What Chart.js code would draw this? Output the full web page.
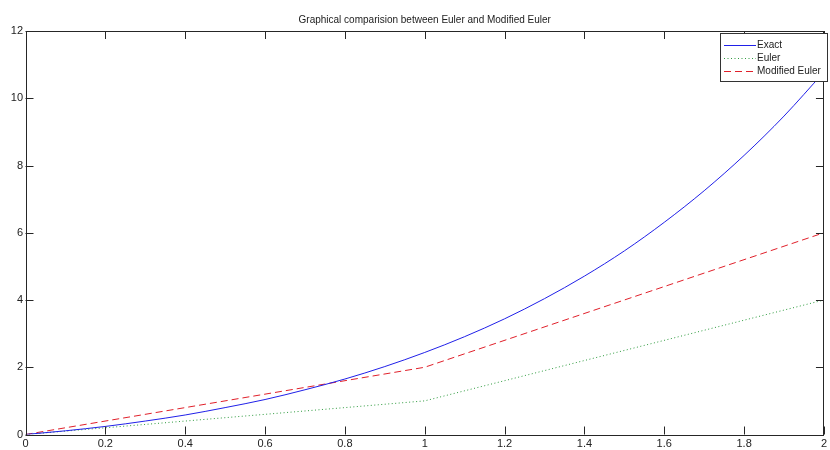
<!DOCTYPE html>
<html>
<head>
<meta charset="utf-8">
<script src="https://cdn.jsdelivr.net/npm/chart.js@4.4.1/dist/chart.umd.min.js"></script>
<style>
html,body{margin:0;padding:0;background:#fff;}
#wrap{position:relative;width:830px;height:450px;}
</style>
</head>
<body>
<div id="wrap"><canvas id="c" width="830" height="450"></canvas></div>
<script>
// ---- data ----
const titleText = "Graphical comparision between Euler and Modified Euler";
const seriesNames = ["Exact", "Euler", "Modified Euler"];
const seriesColors = ["#2020e8", "#2e9a3e", "#e0202a"];
const xExact = [0,0.1,0.2,0.3,0.4,0.5,0.6,0.7,0.8,0.9,1.0,1.1,1.2,1.3,1.4,1.5,1.6,1.7,1.8,1.9,2.0];
const yExact = [0,0.11,0.24,0.40,0.58,0.80,1.04,1.33,1.65,2.02,2.44,2.91,3.44,4.04,4.71,5.46,6.31,7.25,8.30,9.47,10.78];
const xSteps = [0,1,2];
const yEuler = [0,1,4];
const yModified = [0,2,6];
const xTickLabels = ["0","0.2","0.4","0.6","0.8","1","1.2","1.4","1.6","1.8","2"];
const yTickLabels = ["0","2","4","6","8","10","12"];

const FONT = "'Liberation Sans', Arial, sans-serif";
const DASHES = [[], [1,2.5], [7,4]];

function pts(xs, ys){ return xs.map((x,i)=>({x:x, y:ys[i]})); }

const boxPlugin = {
  id: 'matlabBox',
  afterDatasetsDraw(chart){
    const ctx = chart.ctx, a = chart.chartArea;
    const xs = chart.scales.x, ys = chart.scales.y;
    ctx.save();
    ctx.strokeStyle = '#262626';
    ctx.lineWidth = 1;
    ctx.setLineDash([]);
    // box
    ctx.beginPath();
    ctx.rect(Math.round(a.left)+0.5, Math.round(a.top)+0.5, Math.round(a.right-a.left)-1, Math.round(a.bottom-a.top));
    ctx.stroke();
    const TL = 8;
    ctx.beginPath();
    xs.ticks.forEach(t=>{
      const px = Math.round(xs.getPixelForValue(t.value))+0.5;
      ctx.moveTo(px, a.bottom); ctx.lineTo(px, a.bottom-TL);
      ctx.moveTo(px, a.top); ctx.lineTo(px, a.top+TL);
    });
    ys.ticks.forEach(t=>{
      const py = Math.round(ys.getPixelForValue(t.value))+0.5;
      ctx.moveTo(a.left, py); ctx.lineTo(a.left+TL, py);
      ctx.moveTo(a.right, py); ctx.lineTo(a.right-TL, py);
    });
    ctx.stroke();

    // title
    ctx.fillStyle = '#222';
    ctx.font = '10px ' + FONT;
    ctx.textAlign = 'center';
    ctx.textBaseline = 'middle';
    ctx.fillText(titleText, (a.left+a.right)/2, 20);

    // legend box inside axes
    const lx = 720, ly = 33.5, lw = 107, lh = 48;
    ctx.fillStyle = '#fff';
    ctx.fillRect(lx, ly, lw, lh);
    ctx.strokeStyle = '#333';
    ctx.strokeRect(lx+0.5, ly, lw, lh);
    seriesNames.forEach((name, i)=>{
      const y = 45.5 + i*13;
      ctx.save();
      ctx.strokeStyle = seriesColors[i];
      ctx.lineWidth = 1;
      ctx.setLineDash(DASHES[i]);
      ctx.beginPath();
      ctx.moveTo(724, y); ctx.lineTo(756, y);
      ctx.stroke();
      ctx.restore();
      ctx.fillStyle = '#222';
      ctx.font = '10px ' + FONT;
      ctx.textAlign = 'left';
      ctx.textBaseline = 'middle';
      ctx.fillText(name, 757, y);
    });
    ctx.restore();
  }
};

new Chart(document.getElementById('c'), {
  type: 'line',
  data: {
    datasets: [
      { label: seriesNames[0], data: pts(xExact, yExact), borderColor: seriesColors[0], borderWidth: 1, borderDash: DASHES[0], pointRadius: 0, cubicInterpolationMode: 'monotone', fill: false },
      { label: seriesNames[1], data: pts(xSteps, yEuler), borderColor: seriesColors[1], borderWidth: 1, borderDash: DASHES[1], pointRadius: 0, tension: 0, fill: false },
      { label: seriesNames[2], data: pts(xSteps, yModified), borderColor: seriesColors[2], borderWidth: 1, borderDash: DASHES[2], pointRadius: 0, tension: 0, fill: false }
    ]
  },
  options: {
    responsive: false,
    animation: false,
    devicePixelRatio: 1,
    layout: { padding: { left: 0, right: 1.5, top: 31, bottom: 0 } },
    plugins: { legend: { display: false }, title: { display: false }, tooltip: { enabled: false } },
    scales: {
      x: {
        type: 'linear', min: 0, max: 2,
        afterFit(s){ s.height = 15.5; },
        grid: { display: false, drawTicks: false },
        border: { display: false },
        ticks: { stepSize: 0.2, padding: 3, color: '#222', font: { family: FONT, size: 11 }, maxRotation: 0, autoSkip: false,
          callback: (v, i) => xTickLabels[i] }
      },
      y: {
        type: 'linear', min: 0, max: 12,
        afterFit(s){ s.width = 25.5; },
        grid: { display: false, drawTicks: false },
        border: { display: false },
        ticks: { stepSize: 2, padding: 2.5, color: '#222', font: { family: FONT, size: 11 },
          callback: (v, i) => yTickLabels[i] }
      }
    }
  },
  plugins: [boxPlugin]
});
</script>
</body>
</html>
